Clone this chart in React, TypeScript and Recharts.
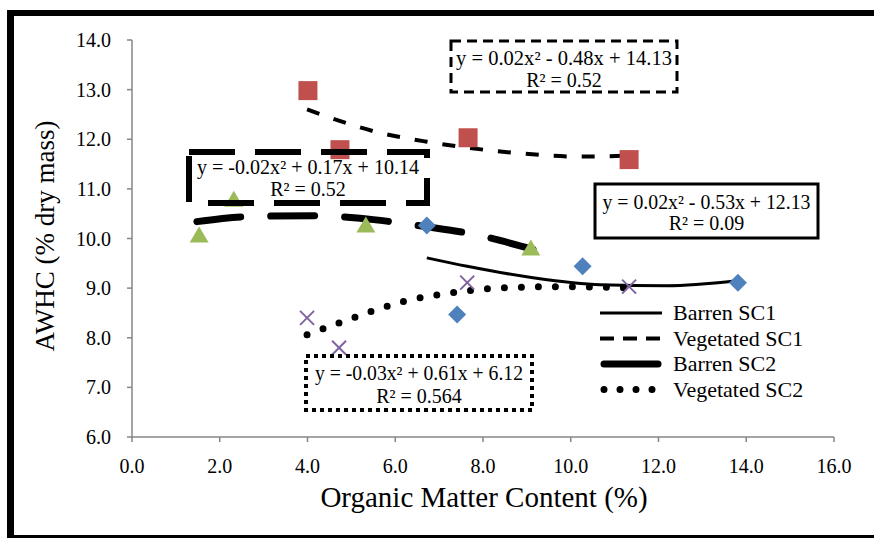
import React from 'react';
import { ComposedChart, Scatter, Line, XAxis, YAxis } from 'recharts';

// Observed points (Organic matter %, AWHC %)
const barrenSC1 = [
  { x: 6.72, y: 10.26 },
  { x: 7.41, y: 8.47 },
  { x: 10.27, y: 9.44 },
  { x: 13.81, y: 9.11 },
];
const vegetatedSC1 = [
  { x: 4.01, y: 12.98 },
  { x: 4.74, y: 11.79 },
  { x: 7.66, y: 12.03 },
  { x: 11.33, y: 11.59 },
];
const barrenSC2 = [
  { x: 1.53, y: 10.06 },
  { x: 2.32, y: 10.78 },
  { x: 5.33, y: 10.26 },
  { x: 9.09, y: 9.8 },
];
const vegetatedSC2 = [
  { x: 3.99, y: 8.4 },
  { x: 4.72, y: 7.8 },
  { x: 7.64, y: 9.11 },
  { x: 11.33, y: 9.03 },
];

// Trend lines
const barrenSC1Trend = [
  { x: 6.72, y: 9.61 },
  { x: 7.64, y: 9.44 },
  { x: 9.14, y: 9.21 },
  { x: 10.67, y: 9.07 },
  { x: 12.19, y: 9.05 },
  { x: 13.79, y: 9.15 },
];
const vegetatedSC1Trend = [
  { x: 3.99, y: 12.6 },
  { x: 5.65, y: 12.13 },
  { x: 6.72, y: 11.95 },
  { x: 8.68, y: 11.73 },
  { x: 10.21, y: 11.65 },
  { x: 11.35, y: 11.67 },
];
const barrenSC2Trend = [
  { x: 1.48, y: 10.34 },
  { x: 2.62, y: 10.44 },
  { x: 4.13, y: 10.46 },
  { x: 5.5, y: 10.38 },
  { x: 6.68, y: 10.24 },
  { x: 7.7, y: 10.1 },
  { x: 9.14, y: 9.78 },
];
const vegetatedSC2Trend = [
  { x: 3.99, y: 8.06 },
  { x: 5.04, y: 8.4 },
  { x: 6.18, y: 8.73 },
  { x: 7.32, y: 8.91 },
  { x: 8.54, y: 9.01 },
  { x: 9.82, y: 9.03 },
  { x: 11.05, y: 9.01 },
  { x: 11.4, y: 9.0 },
];

const xTicks = [0, 2, 4, 6, 8, 10, 12, 14, 16];
const yTicks = [6, 7, 8, 9, 10, 11, 12, 13, 14];
const legendLabels = ['Barren SC1', 'Vegetated SC1', 'Barren SC2', 'Vegetated SC2'];
const equations = [
  ['y = 0.02x² - 0.48x + 14.13', 'R² = 0.52'],
  ['y = -0.02x² + 0.17x + 10.14', 'R² = 0.52'],
  ['y = 0.02x² - 0.53x + 12.13', 'R² = 0.09'],
  ['y = -0.03x² + 0.61x + 6.12', 'R² = 0.564'],
];

const FONT = '"Liberation Serif", "Times New Roman", serif';
const AXIS = '#868686';

const lineStyles = [
  { strokeWidth: 3, strokeDasharray: undefined as string | undefined, cap: 'butt' },
  { strokeWidth: 4, strokeDasharray: '13 15', cap: 'butt' },
  { strokeWidth: 7, strokeDasharray: '44 30', cap: 'round' },
  { strokeWidth: 7, strokeDasharray: '0 17', cap: 'round' },
];

const boxLayout = [
  { x: 451, y: 41, w: 226, h: 51, sw: 3, dash: '10 6', b1: 65, b2: 87, tl: 216 },
  { x: 189, y: 152, w: 238, h: 51, sw: 6, dash: '46 20', b1: 174, b2: 196, tl: 222 },
  { x: 595, y: 184, w: 223, h: 54, sw: 3, dash: undefined as string | undefined, b1: 209, b2: 230, tl: 208 },
  { x: 306, y: 356, w: 226, h: 54, sw: 4, dash: '4 4', b1: 380, b2: 403, tl: 208 },
];

const Diamond = (p: any) => {
  const { cx, cy } = p;
  const r = 9;
  return <path d={`M${cx},${cy - r}L${cx + r},${cy}L${cx},${cy + r}L${cx - r},${cy}Z`} fill="#4F81BD" />;
};
const Square = (p: any) => {
  const { cx, cy } = p;
  const r = 9.5;
  return <rect x={cx - r} y={cy - r} width={2 * r} height={2 * r} fill="#C0504D" />;
};
const Triangle = (p: any) => {
  const { cx, cy } = p;
  return <path d={`M${cx},${cy - 9}L${cx + 9.5},${cy + 7}L${cx - 9.5},${cy + 7}Z`} fill="#9BBB59" />;
};
const Cross = (p: any) => {
  const { cx, cy } = p;
  const r = 7;
  return (
    <g stroke="#8064A2" strokeWidth={2}>
      <line x1={cx - r} y1={cy - r} x2={cx + r} y2={cy + r} />
      <line x1={cx - r} y1={cy + r} x2={cx + r} y2={cy - r} />
    </g>
  );
};

const XTick = (p: any) => {
  const { x, y, payload } = p;
  return (
    <text x={x} y={y + 29} textAnchor="middle" fontFamily={FONT} fontSize={20} fill="#000">
      {Number(payload.value).toFixed(1)}
    </text>
  );
};
const YTick = (p: any) => {
  const { x, y, payload } = p;
  return (
    <text x={x - 6} y={y + 7} textAnchor="end" fontFamily={FONT} fontSize={20} fill="#000">
      {Number(payload.value).toFixed(1)}
    </text>
  );
};

const trends = [barrenSC1Trend, vegetatedSC1Trend, barrenSC2Trend, vegetatedSC2Trend];

export default function App() {
  return (
    <div style={{ position: 'absolute', left: 0, top: 0, width: 874, height: 541, background: '#fff', overflow: 'hidden' }}>
      <ComposedChart width={874} height={541} margin={{ top: 40, right: 40, bottom: 44, left: 72 }}>
        <XAxis
          type="number"
          dataKey="x"
          domain={[0, 16]}
          ticks={xTicks}
          stroke={AXIS}
          strokeWidth={1.5}
          tickSize={5}
          tickMargin={2}
          tick={<XTick />}
          height={60}
          allowDataOverflow
        />
        <YAxis
          type="number"
          dataKey="y"
          domain={[6, 14]}
          ticks={yTicks}
          stroke={AXIS}
          strokeWidth={1.5}
          tickSize={5}
          tickMargin={10}
          tick={<YTick />}
          width={60}
          allowDataOverflow
        />
        <Scatter data={barrenSC1} shape={Diamond} isAnimationActive={false} legendType="none" />
        <Scatter data={vegetatedSC1} shape={Square} isAnimationActive={false} legendType="none" />
        <Scatter data={barrenSC2} shape={Triangle} isAnimationActive={false} legendType="none" />
        <Scatter data={vegetatedSC2} shape={Cross} isAnimationActive={false} legendType="none" />
        {trends.map((t, i) => (
          <Line
            key={i}
            data={t}
            dataKey="y"
            type="monotone"
            stroke="#000"
            strokeWidth={lineStyles[i].strokeWidth}
            strokeDasharray={lineStyles[i].strokeDasharray}
            strokeLinecap={lineStyles[i].cap as any}
            dot={false}
            activeDot={false}
            legendType="none"
            isAnimationActive={false}
          />
        ))}
      </ComposedChart>
      <svg width={874} height={541} style={{ position: 'absolute', left: 0, top: 0, pointerEvents: 'none' }}>
        {equations.map((lines, i) => {
          const b = boxLayout[i];
          const cx = b.x + b.w / 2;
          return (
            <g key={i}>
              <rect x={b.x} y={b.y} width={b.w} height={b.h} fill="none" stroke="#000" strokeWidth={b.sw} strokeDasharray={b.dash} />
              <text x={cx - b.tl / 2} y={b.b1} textLength={b.tl} lengthAdjust="spacingAndGlyphs" fontFamily={FONT} fontSize={20} fill="#000">{lines[0]}</text>
              <text x={cx} y={b.b2} textAnchor="middle" fontFamily={FONT} fontSize={20} fill="#000">{lines[1]}</text>
            </g>
          );
        })}
        <g transform="translate(598,301)">
          {legendLabels.map((label, i) => {
            const y = 12 + i * 25.5;
            const s = lineStyles[i];
            return (
              <g key={label}>
                <line
                  x1={s.cap === 'round' ? 6 : 2}
                  x2={s.cap === 'round' ? 60 : 64}
                  y1={y}
                  y2={y}
                  stroke="#000"
                  strokeWidth={s.strokeWidth}
                  strokeDasharray={i === 1 ? '14 9' : i === 3 ? '0 16' : undefined}
                  strokeLinecap={s.cap as any}
                />
                <text x={75} y={y + 7} fontFamily={FONT} fontSize={22} fill="#000">
                  {label}
                </text>
              </g>
            );
          })}
        </g>
        <text x={484} y={507} textAnchor="middle" fontFamily={FONT} fontSize={29} fill="#000">Organic Matter Content (%)</text>
        <text x={0} y={0} transform="translate(54,236) rotate(-90)" textAnchor="middle" fontFamily={FONT} fontSize={27} fill="#000">AWHC (% dry mass)</text>
        <rect x={7} y={10} width={900} height={6} fill="#000" />
        <rect x={7} y={10} width={7} height={528} fill="#000" />
        <rect x={7} y={535} width={900} height={3} fill="#000" />
      </svg>
    </div>
  );
}
